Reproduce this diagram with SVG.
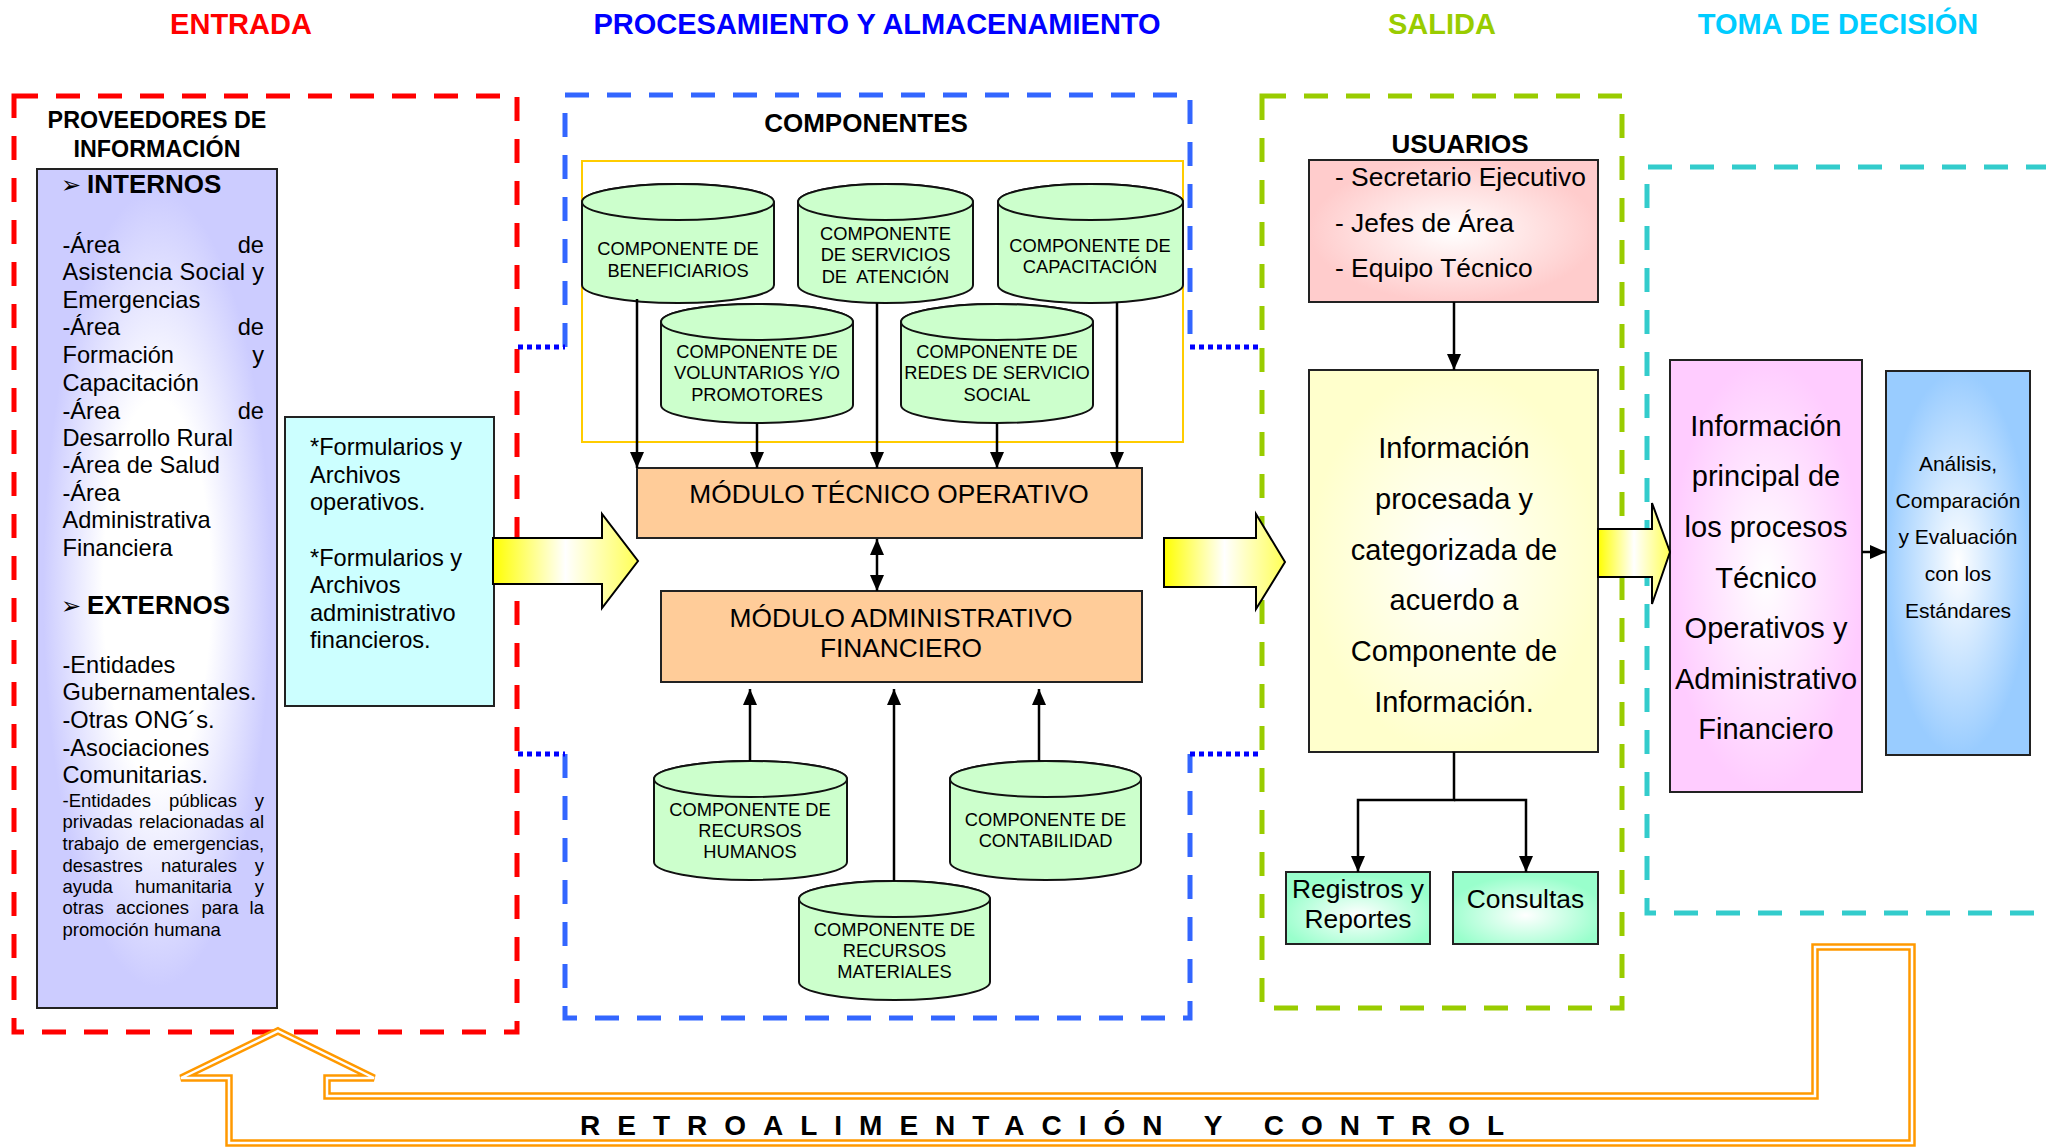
<svg xmlns="http://www.w3.org/2000/svg" width="2046" height="1148" viewBox="0 0 2046 1148">
  <defs>
    <style>
      text { font-family: "Liberation Sans", Arial, sans-serif; fill: #000; }
      .hdr { font-size: 29px; font-weight: bold; text-anchor: middle; }
      .ttl { font-weight: bold; text-anchor: middle; }
      .lst { font-size: 23.6px; }
      .sml { font-size: 18.5px; }
      .cyl { font-size: 18.3px; text-anchor: middle; }
      .mid { text-anchor: middle; }
      .end { text-anchor: end; }
      .bul { font-family: "DejaVu Sans", sans-serif; font-size: 24px; }
      .box { stroke: #222; stroke-width: 2; }
      .cylb { fill: #CCFFCC; stroke: #111; stroke-width: 2; }
      .dash { fill: none; stroke-width: 5; stroke-dasharray: 24 18; }
      .dot { fill: none; stroke: #0000FF; stroke-width: 5; stroke-dasharray: 5 4; }
      .con { fill: none; stroke: #000; stroke-width: 2.5; }
      .yarrow { fill: url(#gArrow); stroke: #000; stroke-width: 2; stroke-linejoin: miter; }
    </style>
    <marker id="ah" viewBox="0 0 10 10" refX="10" refY="5" markerUnits="userSpaceOnUse" markerWidth="16" markerHeight="14" orient="auto-start-reverse" preserveAspectRatio="none">
      <path d="M0,0 L10,5 L0,10 z" fill="#000"/>
    </marker>
    <radialGradient id="gPurple" cx="0.5" cy="0.5" r="0.5">
      <stop offset="0" stop-color="#FFFFFF"/>
      <stop offset="0.45" stop-color="#FFFFFF"/>
      <stop offset="0.95" stop-color="#CCCCFF"/>
    </radialGradient>
    <radialGradient id="gPink" cx="0.5" cy="0.5" r="0.5">
      <stop offset="0" stop-color="#FFFFFF"/>
      <stop offset="1" stop-color="#FFCCCC"/>
    </radialGradient>
    <radialGradient id="gCream" cx="0.5" cy="0.5" r="0.5">
      <stop offset="0" stop-color="#FFFFFF"/>
      <stop offset="1" stop-color="#FFFFCC"/>
    </radialGradient>
    <radialGradient id="gMint" cx="0.5" cy="0.6" r="0.55">
      <stop offset="0" stop-color="#FFFFFF"/>
      <stop offset="1" stop-color="#99FFCC"/>
    </radialGradient>
    <radialGradient id="gMagenta" cx="0.5" cy="0.5" r="0.5">
      <stop offset="0" stop-color="#FFFFFF"/>
      <stop offset="1" stop-color="#FFCCFF"/>
    </radialGradient>
    <radialGradient id="gSky" cx="0.5" cy="0.5" r="0.5">
      <stop offset="0" stop-color="#FFFFFF"/>
      <stop offset="1" stop-color="#99CCFF"/>
    </radialGradient>
    <linearGradient id="gArrow" x1="0" y1="0" x2="1" y2="0">
      <stop offset="0" stop-color="#FFFF00"/>
      <stop offset="0.5" stop-color="#FFFFFF"/>
      <stop offset="1" stop-color="#FFFF55"/>
    </linearGradient>
  </defs>

  <rect width="2046" height="1148" fill="#FFFFFF"/>

  <!-- column headings -->
  <g id="headings">
    <text class="hdr" x="241" y="34" style="fill:#FF0000">ENTRADA</text>
    <text class="hdr" x="877" y="34" style="fill:#0000FF">PROCESAMIENTO Y ALMACENAMIENTO</text>
    <text class="hdr" x="1442" y="34" style="fill:#99CC00">SALIDA</text>
    <text class="hdr" x="1838" y="34" style="fill:#00CCFF">TOMA DE DECISIÓN</text>
  </g>

  <!-- dashed stage frames -->
  <g id="frames">
    <rect class="dash" x="14" y="96" width="503" height="936" stroke="#FF0000"/>
    <path class="dash" d="M565,347 V95 H1190 V347" stroke="#3366FF"/>
    <path class="dash" d="M565,754 V1018 H1190 V754" stroke="#3366FF"/>
    <path class="dot" d="M518,347 H565 M1190,347 H1260 M518,754 H565 M1190,754 H1260"/>
    <rect class="dash" x="1262" y="96" width="360" height="912" stroke="#99CC00"/>
    <path class="dash" d="M2050,167 H1647 V913 H2050" stroke="#33CCCC"/>
    <rect x="582" y="161" width="601" height="281" fill="none" stroke="#FFCC00" stroke-width="2"/>
  </g>

  <!-- input: information providers -->
  <g id="proveedores">
    <text class="ttl" x="157" y="128" font-size="23.3">PROVEEDORES DE</text>
    <text class="ttl" x="157" y="157" font-size="23.3">INFORMACIÓN</text>
    <rect class="box" x="37" y="169" width="240" height="839" fill="url(#gPurple)"/>
    <text class="bul" x="61" y="193">➢</text>
    <text x="87" y="193" font-size="26" font-weight="bold">INTERNOS</text>
    <g class="lst">
      <text x="62.5" y="253">-Área</text><text class="end" x="264" y="253">de</text>
      <text x="62.5" y="280" textLength="201.5" lengthAdjust="spacing">Asistencia Social y</text>
      <text x="62.5" y="308">Emergencias</text>
      <text x="62.5" y="335">-Área</text><text class="end" x="264" y="335">de</text>
      <text x="62.5" y="363">Formación</text><text class="end" x="264" y="363">y</text>
      <text x="62.5" y="391">Capacitación</text>
      <text x="62.5" y="419">-Área</text><text class="end" x="264" y="419">de</text>
      <text x="62.5" y="446">Desarrollo Rural</text>
      <text x="62.5" y="473">-Área de Salud</text>
      <text x="62.5" y="501">-Área</text>
      <text x="62.5" y="528">Administrativa</text>
      <text x="62.5" y="556">Financiera</text>
    </g>
    <text class="bul" x="61" y="614">➢</text>
    <text x="87" y="614" font-size="26" font-weight="bold">EXTERNOS</text>
    <g class="lst">
      <text x="62.5" y="673">-Entidades</text>
      <text x="62.5" y="700">Gubernamentales.</text>
      <text x="62.5" y="728">-Otras ONG´s.</text>
      <text x="62.5" y="756">-Asociaciones</text>
      <text x="62.5" y="783">Comunitarias.</text>
    </g>
    <g class="sml">
      <text x="62.5" y="807">-Entidades</text><text x="169" y="807">públicas</text><text class="end" x="264" y="807">y</text>
      <text x="62.5" y="828">privadas</text><text x="139" y="828">relacionadas</text><text class="end" x="264" y="828">al</text>
      <text x="62.5" y="850">trabajo</text><text x="126" y="850">de</text><text x="153" y="850">emergencias,</text>
      <text x="62.5" y="872">desastres</text><text x="161" y="872">naturales</text><text class="end" x="264" y="872">y</text>
      <text x="62.5" y="893">ayuda</text><text x="135" y="893">humanitaria</text><text class="end" x="264" y="893">y</text>
      <text x="62.5" y="914">otras</text><text x="116" y="914">acciones</text><text x="201.5" y="914">para</text><text class="end" x="264" y="914">la</text>
      <text x="62.5" y="936">promoción humana</text>
    </g>
  </g>

  <g id="formularios">
    <rect class="box" x="285" y="417" width="209" height="289" fill="#CCFFFF"/>
    <g class="lst">
      <text x="310" y="455">*Formularios y</text>
      <text x="310" y="483">Archivos</text>
      <text x="310" y="510">operativos.</text>
      <text x="310" y="566">*Formularios y</text>
      <text x="310" y="593">Archivos</text>
      <text x="310" y="621">administrativo</text>
      <text x="310" y="648">financieros.</text>
    </g>
  </g>

  <!-- processing: components and modules -->
  <text class="ttl" x="866" y="132" font-size="26">COMPONENTES</text>

  <g id="comp-beneficiarios">
    <path class="cylb" d="M582,202 v83 a96,18 0 0 0 192,0 v-83 a96,18 0 0 0 -192,0 z"/>
    <ellipse class="cylb" cx="678" cy="202" rx="96" ry="18"/>
    <text class="cyl" x="678" y="255">COMPONENTE DE</text>
    <text class="cyl" x="678" y="277">BENEFICIARIOS</text>
  </g>
  <g id="comp-servicios">
    <path class="cylb" d="M798,202 v83 a87.5,18 0 0 0 175,0 v-83 a87.5,18 0 0 0 -175,0 z"/>
    <ellipse class="cylb" cx="885.5" cy="202" rx="87.5" ry="18"/>
    <text class="cyl" x="885.5" y="240">COMPONENTE</text>
    <text class="cyl" x="885.5" y="261">DE SERVICIOS</text>
    <text class="cyl" x="885.5" y="283" xml:space="preserve">DE  ATENCIÓN</text>
  </g>
  <g id="comp-capacitacion">
    <path class="cylb" d="M998,202 v83 a92.5,18 0 0 0 185,0 v-83 a92.5,18 0 0 0 -185,0 z"/>
    <ellipse class="cylb" cx="1090.5" cy="202" rx="92.5" ry="18"/>
    <text class="cyl" x="1090" y="252">COMPONENTE DE</text>
    <text class="cyl" x="1090" y="273">CAPACITACIÓN</text>
  </g>
  <g id="comp-voluntarios">
    <path class="cylb" d="M661,322 v83 a96,18 0 0 0 192,0 v-83 a96,18 0 0 0 -192,0 z"/>
    <ellipse class="cylb" cx="757" cy="322" rx="96" ry="18"/>
    <text class="cyl" x="757" y="358">COMPONENTE DE</text>
    <text class="cyl" x="757" y="379">VOLUNTARIOS Y/O</text>
    <text class="cyl" x="757" y="401">PROMOTORES</text>
  </g>
  <g id="comp-redes">
    <path class="cylb" d="M901,322 v83 a96,18 0 0 0 192,0 v-83 a96,18 0 0 0 -192,0 z"/>
    <ellipse class="cylb" cx="997" cy="322" rx="96" ry="18"/>
    <text class="cyl" x="997" y="358">COMPONENTE DE</text>
    <text class="cyl" x="997" y="379">REDES DE SERVICIO</text>
    <text class="cyl" x="997" y="401">SOCIAL</text>
  </g>

  <g id="modulo-tecnico">
    <rect class="box" x="637" y="468" width="505" height="70" fill="#FFCC99"/>
    <text class="mid" x="889" y="503" font-size="26.3">MÓDULO TÉCNICO OPERATIVO</text>
  </g>
  <g id="modulo-administrativo">
    <rect class="box" x="661" y="591" width="481" height="91" fill="#FFCC99"/>
    <text class="mid" x="901" y="627" font-size="26.3">MÓDULO ADMINISTRATIVO</text>
    <text class="mid" x="901" y="657" font-size="26.3">FINANCIERO</text>
  </g>

  <g id="comp-rrhh">
    <path class="cylb" d="M654,779 v83 a96.5,18 0 0 0 193,0 v-83 a96.5,18 0 0 0 -193,0 z"/>
    <ellipse class="cylb" cx="750.5" cy="779" rx="96.5" ry="18"/>
    <text class="cyl" x="750" y="816">COMPONENTE DE</text>
    <text class="cyl" x="750" y="837">RECURSOS</text>
    <text class="cyl" x="750" y="858">HUMANOS</text>
  </g>
  <g id="comp-contabilidad">
    <path class="cylb" d="M950,779 v83 a95.5,18 0 0 0 191,0 v-83 a95.5,18 0 0 0 -191,0 z"/>
    <ellipse class="cylb" cx="1045.5" cy="779" rx="95.5" ry="18"/>
    <text class="cyl" x="1045.5" y="826">COMPONENTE DE</text>
    <text class="cyl" x="1045.5" y="847">CONTABILIDAD</text>
  </g>
  <g id="comp-materiales">
    <path class="cylb" d="M799,899 v83 a95.5,18 0 0 0 191,0 v-83 a95.5,18 0 0 0 -191,0 z"/>
    <ellipse class="cylb" cx="894.5" cy="899" rx="95.5" ry="18"/>
    <text class="cyl" x="894.5" y="936">COMPONENTE DE</text>
    <text class="cyl" x="894.5" y="957">RECURSOS</text>
    <text class="cyl" x="894.5" y="978">MATERIALES</text>
  </g>

  <!-- output: users -->
  <g id="usuarios">
    <text class="ttl" x="1460" y="153" font-size="26">USUARIOS</text>
    <rect class="box" x="1309" y="160" width="289" height="142" fill="url(#gPink)"/>
    <text x="1335" y="186" font-size="26.4">- Secretario Ejecutivo</text>
    <text x="1335" y="232" font-size="26.4">- Jefes de Área</text>
    <text x="1335" y="277" font-size="26.4">- Equipo Técnico</text>
  </g>
  <g id="informacion-procesada">
    <rect class="box" x="1309" y="370" width="289" height="382" fill="url(#gCream)"/>
    <g font-size="29">
      <text class="mid" x="1454" y="458">Información</text>
      <text class="mid" x="1454" y="509">procesada y</text>
      <text class="mid" x="1454" y="560">categorizada de</text>
      <text class="mid" x="1454" y="610">acuerdo a</text>
      <text class="mid" x="1454" y="661">Componente de</text>
      <text class="mid" x="1454" y="712">Información.</text>
    </g>
  </g>
  <g id="registros">
    <rect class="box" x="1286" y="872" width="144" height="72" fill="url(#gMint)"/>
    <text class="mid" x="1358" y="898" font-size="26.4">Registros y</text>
    <text class="mid" x="1358" y="928" font-size="26.4">Reportes</text>
  </g>
  <g id="consultas">
    <rect class="box" x="1453" y="872" width="145" height="72" fill="url(#gMint)"/>
    <text class="mid" x="1525.5" y="908" font-size="26.4">Consultas</text>
  </g>

  <!-- decision making -->
  <g id="informacion-principal">
    <rect class="box" x="1670" y="360" width="192" height="432" fill="url(#gMagenta)"/>
    <g font-size="29">
      <text class="mid" x="1766" y="436">Información</text>
      <text class="mid" x="1766" y="486">principal de</text>
      <text class="mid" x="1766" y="537">los procesos</text>
      <text class="mid" x="1766" y="588">Técnico</text>
      <text class="mid" x="1766" y="638">Operativos y</text>
      <text class="mid" x="1766" y="689">Administrativo</text>
      <text class="mid" x="1766" y="739">Financiero</text>
    </g>
  </g>
  <g id="analisis">
    <rect class="box" x="1886" y="371" width="144" height="384" fill="url(#gSky)"/>
    <g font-size="21">
      <text class="mid" x="1958" y="471">Análisis,</text>
      <text class="mid" x="1958" y="508">Comparación</text>
      <text class="mid" x="1958" y="544">y Evaluación</text>
      <text class="mid" x="1958" y="581">con los</text>
      <text class="mid" x="1958" y="618">Estándares</text>
    </g>
  </g>

  <!-- connectors -->
  <g id="connectors">
    <path class="yarrow" d="M493,538 H602 V514 L638,561 L602,608 V584 H493 Z"/>
    <path class="yarrow" d="M1164,538 H1256 V514 L1285,562 L1256,609 V587 H1164 Z"/>
    <path class="yarrow" d="M1598,529 H1652 V503 L1670,552 L1652,604 V577 H1598 Z"/>

    <g class="con" marker-end="url(#ah)">
      <line x1="637" y1="299" x2="637" y2="468"/>
      <line x1="757" y1="423" x2="757" y2="468"/>
      <line x1="877" y1="303" x2="877" y2="468"/>
      <line x1="997" y1="423" x2="997" y2="468"/>
      <line x1="1117" y1="302" x2="1117" y2="468"/>
      <line x1="750" y1="761" x2="750" y2="689"/>
      <line x1="894" y1="881" x2="894" y2="689"/>
      <line x1="1039" y1="761" x2="1039" y2="689"/>
      <line x1="1454" y1="302" x2="1454" y2="370"/>
      <line x1="1862" y1="552" x2="1886" y2="552"/>
    </g>
    <line class="con" x1="877" y1="539" x2="877" y2="591" marker-start="url(#ah)" marker-end="url(#ah)"/>
    <path class="con" d="M1454,752 V800 H1358 V872" marker-end="url(#ah)"/>
    <path class="con" d="M1454,800 H1526 V872" marker-end="url(#ah)"/>

    <!-- feedback loop: double-lined bent arrow back to the input -->
    <g id="retroalimentacion" fill="none" stroke-linejoin="miter">
      <path d="M278,1031 L374,1078 H327 V1096 H1815 V947 H1912 V1143 H229 V1078 H181 Z" stroke="#FF9900" stroke-width="7.5"/>
      <path d="M278,1031 L374,1078 H327 V1096 H1815 V947 H1912 V1143 H229 V1078 H181 Z" stroke="#FFFFFF" stroke-width="2.5"/>
    </g>
  </g>

  <text x="580" y="1135" font-size="28" font-weight="bold" letter-spacing="17">RETROALIMENTACIÓN Y CONTROL</text>
</svg>
